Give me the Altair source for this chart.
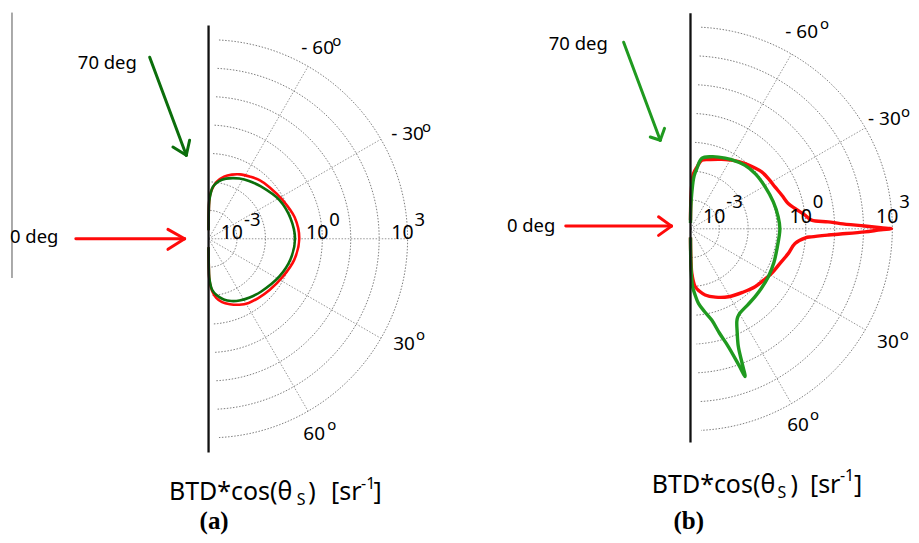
import altair as alt
import numpy as np
import pandas as pd

FONT = "Noto Sans"
SERIF = "Liberation Serif"

# ---------------- data (angle in deg, + = below horizontal; log10 of BTD*cos(theta_s)) -------------
ang_red_a = [-89.9, -89.5, -89, -88, -86, -82, -76, -70, -64, -56, -49, -40, -27.5, -14, 0,
             14, 27, 40, 50, 58, 65, 72, 78, 82.6, 86, 88, 89, 89.5, 89.9]
log_red_a = [-3.7, -3.0, -2.7, -2.45, -2.25, -1.98, -1.75, -1.6, -1.48, -1.37, -1.27, -1.19, -1.06, -0.88, -0.81,
             -0.90, -1.07, -1.20, -1.28, -1.34, -1.44, -1.58, -1.72, -1.90, -2.15, -2.40, -2.6, -3.0, -3.7]

ang_green_a = [-89.9, -89.5, -89, -88, -85.3, -80, -74, -68, -62.8, -55, -45, -28.6, -14, 0,
               14, 28, 45, 55, 63.4, 70, 76, 82, 86, 88, 89, 89.5, 89.9]
log_green_a = [-3.7, -3.0, -2.7, -2.5, -2.17, -1.95, -1.8, -1.7, -1.62, -1.52, -1.40, -1.16, -1.03, -0.96,
               -1.03, -1.18, -1.38, -1.48, -1.57, -1.67, -1.8, -2.0, -2.2, -2.45, -2.65, -3.0, -3.7]

ang_red_b = [-89.9, -89.5, -89, -88.3, -86.9, -84, -80.7, -74, -65.8, -58,
             -50, -44, -38.6, -32, -26.4, -20, -14.5, -11, -6.8, -4.1,
             -2.9, -2, -0.9, -0.3, 0, 0.3, 1, 2, 2.6, 3.8,
             4.5, 8, 14.1, 20, 28.8, 35, 41.9, 50, 60.8, 70,
             77.5, 82, 85.4, 88.3, 89, 89.5, 89.9]
log_red_b = [-3.7, -3.2, -2.8, -2.46, -2.08, -1.85, -1.59, -1.5, -1.36, -1.2,
             -1.05, -0.94, -0.84, -0.78, -0.73, -0.62, -0.5, -0.31, 0.0, 0.21,
             0.78, 1.2, 2.04, 2.6, 2.97, 2.6, 2.05, 1.2, 0.78, 0.2,
             0.0, -0.34, -0.5, -0.65, -0.79, -0.9, -0.99, -1.14, -1.30, -1.48,
             -1.65, -1.82, -1.99, -2.46, -2.8, -3.2, -3.7]

ang_green_b = [-89.9, -89.5, -89, -88, -87, -86, -84, -80.9, -74, -68.7,
               -60, -49.3, -40, -29.3, -18, -7.8, 0, 13.9, 22, 31.6,
               40, 46.4, 53, 59.6, 62, 63.5, 65.5, 67.9, 69, 69.7,
               70.5, 72.2, 74.5, 76.9, 80.5, 83.9, 86, 88, 89, 89.5, 89.9]
log_green_b = [-3.8, -3.5, -3.2, -2.8, -2.4, -2.15, -1.9, -1.53, -1.4, -1.33,
               -1.22, -1.1, -1.05, -1.03, -0.98, -0.93, -0.9, -0.92, -0.88, -0.83,
               -0.79, -0.75, -0.7, -0.61, -0.52, -0.4, -0.1, 0.41, 1.0, 1.46,
               1.0, 0.29, -0.25, -0.75, -1.1, -1.4, -1.7, -2.0, -2.5, -3.0, -3.7]

ring_exponents = [-3, -2, -1, 0, 1, 2, 3]
spoke_angles = [-60, -30, 0, 30, 60]
tick_exponents = [-3, 0, 3]
tick_sups = ["-3", "0", "3"]
angle_texts = ["- 60", "- 30", "30", "60"]
xlabel_parts = ["BTD*cos(θ", "S", ")", "[sr", "-1", "]"]
panel_tags = ["(a)", "(b)"]

RED = "#ff0a0a"
GREEN_A = "#0b6e0b"
GREEN_B = "#1f9a1f"
BLACK = "#111111"

ONE = pd.DataFrame({"k": [0]})


def polar(ch):
    return ch.transform_calculate(r="datum.logv + 4").transform_calculate(
        px="datum.r * cos(datum.ang * PI / 180)",
        py="-datum.r * sin(datum.ang * PI / 180)",
        x0="0",
        y0="0",
    )


def txt(x, y, s, size=18, color="black", font=FONT, weight="normal", align="left"):
    return alt.Chart(ONE).mark_text(
        font=font, fontSize=size, fontWeight=weight, color=color, align=align, baseline="alphabetic"
    ).encode(x=alt.value(x), y=alt.value(y), text=alt.value(s))


def seg(x1, y1, x2, y2, color, w, cap="butt"):
    return alt.Chart(ONE).mark_rule(color=color, strokeWidth=w, strokeCap=cap).encode(
        x=alt.value(x1), y=alt.value(y1), x2=alt.value(x2), y2=alt.value(y2)
    )


def arrow(line, tip, barbs, color, w=3):
    out = [seg(line[0], line[1], tip[0], tip[1], color, w, "round")]
    for b in barbs:
        out.append(seg(b[0], b[1], tip[0], tip[1], color, w, "round"))
    return out


def panel(c):
    W, H, cx, cy, k = c["W"], c["H"], c["cx"], c["cy"], c["k"]
    xs = alt.Scale(domain=[-cx / k, (W - cx) / k], nice=False, zero=False)
    ys = alt.Scale(domain=[-(H - cy) / k, cy / k], nice=False, zero=False)

    def X(f):
        return alt.X(f, type="quantitative", scale=xs, axis=None)

    def Y(f):
        return alt.Y(f, type="quantitative", scale=ys, axis=None)

    ring_ang = np.arange(-87, 87.01, 1.5)
    ring_df = pd.DataFrame(
        [(e, a, e) for e in ring_exponents for a in ring_ang], columns=["ring", "ang", "logv"]
    )
    rings = polar(alt.Chart(ring_df)).mark_line(
        color="#6e6e6e", strokeWidth=0.9, strokeDash=[1.5, 1.6]
    ).encode(x=X("px"), y=Y("py"), detail="ring:N", order="ang:Q")

    spoke_df = pd.DataFrame({"ang": spoke_angles, "logv": [ring_exponents[-1]] * len(spoke_angles)})
    spokes = polar(alt.Chart(spoke_df)).mark_rule(
        color="#8a8a8a", strokeWidth=0.9, strokeDash=[1.5, 1.6]
    ).encode(x=X("x0"), y=Y("y0"), x2="px:Q", y2="py:Q")

    layers = [rings, spokes]

    for ang, lv, col in [(c["ang_r"], c["log_r"], RED), (c["ang_g"], c["log_g"], c["green"])]:
        df = pd.DataFrame({"i": range(len(ang)), "ang": ang, "logv": lv})
        layers.append(
            polar(alt.Chart(df)).mark_line(
                color=col, strokeWidth=c["lw"], interpolate="catmull-rom", strokeJoin="round"
            ).encode(x=X("px"), y=Y("py"), order="i:Q")
        )

    # vertical black line and optional grey line
    layers.append(seg(c["vline"][0], c["vline"][1], c["vline"][0], c["vline"][2], BLACK, 2.3))
    if c.get("gline"):
        g = c["gline"]
        layers.append(seg(g[0], g[1], g[0], g[2], "#555555", 1))

    # tick labels 10^n
    tick_df = pd.DataFrame({"ang": [0] * 3, "logv": tick_exponents, "sup": tick_sups})
    layers.append(
        polar(alt.Chart(tick_df)).mark_text(
            font=FONT, fontSize=19.5, align="right", baseline="alphabetic", dx=c["tdx"], dy=c["tdy"]
        ).encode(x=X("px"), y=Y("py"), text=alt.value("10"))
    )
    layers.append(
        polar(alt.Chart(tick_df)).mark_text(
            font=FONT, fontSize=18.5, align="left", baseline="alphabetic", dx=c["tdx"] + 1, dy=c["sdy"]
        ).encode(x=X("px"), y=Y("py"), text="sup:N")
    )

    # angle labels with superscript 'o'
    for s, (p, o) in zip(angle_texts, c["alabels"]):
        layers.append(txt(p[0], p[1], s, 19))
        layers.append(txt(o[0], o[1], "o", 15))

    # arrows
    layers += arrow(*c["red_arrow"], RED, 3)
    layers += arrow(*c["green_arrow"], c["green"], 3)
    layers.append(txt(c["t70"][0], c["t70"][1], "70 deg", 18.5))
    layers.append(txt(c["t0"][0], c["t0"][1], "0 deg", 18.5))

    # x label
    bx, by = c["xl"]
    offs = c["xl_offs"]
    sizes = [25, 16, 25, 25, 16, 25]
    dys = [0, 5, 0, 0, -12, 0]
    for part, o, sz, dy in zip(xlabel_parts, offs, sizes, dys):
        layers.append(txt(bx + o, by + dy, part, sz))
    layers.append(txt(c["tag"][0], c["tag"][1], c["tagtext"], 25, font=SERIF, weight="bold"))

    return alt.layer(*layers).properties(width=W, height=H)


cfg_a = dict(
    W=460, H=527, cx=201, cy=230.7, k=28.5, lw=2.6, green=GREEN_A,
    ang_r=ang_red_a, log_r=log_red_a, ang_g=ang_green_a, log_g=log_green_a,
    vline=(201, 17, 445), gline=(4, 4, 270),
    tdx=6, tdy=0, sdy=-13,
    alabels=[((294, 45.3), (325, 37)), ((384, 132), (415, 124)),
             ((386, 342), (409, 332)), ((296, 432), (320, 422))],
    red_arrow=((68, 230.7), (177, 230.7), [(160.3, 221.3), (160.3, 241.3)]),
    green_arrow=((142, 48.7), (178.7, 147), [(165.3, 138.7), (182, 132)]),
    t70=(70, 60.3), t0=(2, 235.3),
    xl=(161.3, 493), xl_offs=[0, 128, 139.5, 162.4, 192.5, 205],
    tag=(192, 521.5), tagtext=panel_tags[0],
)

cfg_b = dict(
    W=443, H=527, cx=224, cy=220.7, k=28.9, lw=3.4, green=GREEN_B,
    ang_r=ang_red_b, log_r=log_red_b, ang_g=ang_green_b, log_g=log_green_b,
    vline=(224, 4.7, 435), gline=None,
    tdx=6, tdy=-6, sdy=-20.4,
    alabels=[((319, 29.3), (353.7, 20)), ((402, 117), (435, 109)),
             ((411, 340.3), (433.7, 332)), ((321, 423.7), (343.7, 412.7))],
    red_arrow=((99, 218), (205, 218), [(192, 208.7), (192, 227.3)]),
    green_arrow=((157, 33.7), (193.7, 132), [(183.7, 128.7), (198, 120)]),
    t70=(82, 42), t0=(40, 223.7),
    xl=(185.3, 485.3), xl_offs=[0, 126, 139, 158.4, 188.5, 202.5],
    tag=(207, 521.5), tagtext=panel_tags[1],
)

chart = alt.hconcat(panel(cfg_a), panel(cfg_b), spacing=0).properties(
    padding=0, background="white"
).configure_view(strokeWidth=0)

chart.save("out.html", embed_options={"renderer": "svg", "actions": False})
